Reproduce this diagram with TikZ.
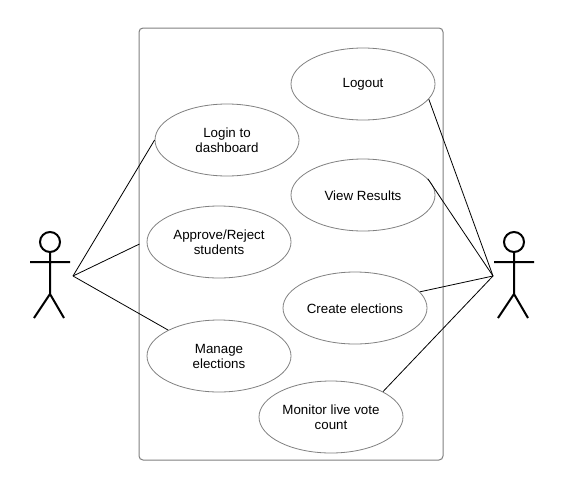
\documentclass[tikz,border=0pt]{standalone}
\usepackage{fontspec}
\setmainfont{Liberation Sans}
\usetikzlibrary{shapes.geometric}
\newcommand{\toppad}{\rule{0pt}{8pt}}
\tikzset{
  uc/.style={ellipse,draw=black!50,line width=.6pt,minimum width=108pt,minimum height=54pt,inner sep=0pt,align=center,font=\fontsize{10pt}{11.25pt}\selectfont,text=black},
  sysbox/.style={rectangle,draw=black!50,line width=.75pt,rounded corners=3pt,minimum width=228pt,minimum height=324pt,inner sep=0pt},
  conn/.style={draw=black,line width=.6pt},
  actor/.style={draw=black,line width=1.5pt},
  head/.style={circle,draw=black,line width=1.5pt,minimum size=15pt,inner sep=0pt},
}
\begin{document}
\begin{tikzpicture}[x=.75pt,y=-.75pt]
\useasboundingbox (0,0) rectangle (581,493);
\fill[white] (0,0) rectangle (581,493);
\node[sysbox] (box) at (291,244) {};
\node[uc] (logout) at (363,84) {\toppad Logout};
\node[uc] (login) at (227,140) {\toppad Login to\\dashboard};
\node[uc] (results) at (363,195) {\toppad View Results};
\node[uc] (approve) at (219,242) {\toppad Approve/Reject\\students};
\node[uc] (create) at (355,308) {\toppad Create elections};
\node[uc] (manage) at (219,356) {\toppad Manage\\elections};
\node[uc] (monitor) at (331,417) {\toppad Monitor live vote\\count};
\coordinate (la) at (73,276);
\coordinate (ra) at (493,276);
\coordinate (ae) at (139.5,244);
\draw[conn] (la) -- (login.180);
\draw[conn] (la) -- (ae);
\draw[conn] (la) -- (manage.153.4);
\draw[conn] (ra) -- (logout.-13);
\draw[conn] (ra) -- (results.14.8);
\draw[conn] (ra) -- (create.14);
\draw[conn] (ra) -- (monitor.26.6);
% left actor
\node[head] (lh) at (50,242) {};
\draw[actor] (lh.south) -- (50,294) (30,262) -- (70,262) (34,318) -- (50,294) -- (64,318);
% right actor
\node[head] (rh) at (514,242) {};
\draw[actor] (rh.south) -- (514,294) (494,262) -- (534,262) (498,318) -- (514,294) -- (528,318);
\end{tikzpicture}
\end{document}
